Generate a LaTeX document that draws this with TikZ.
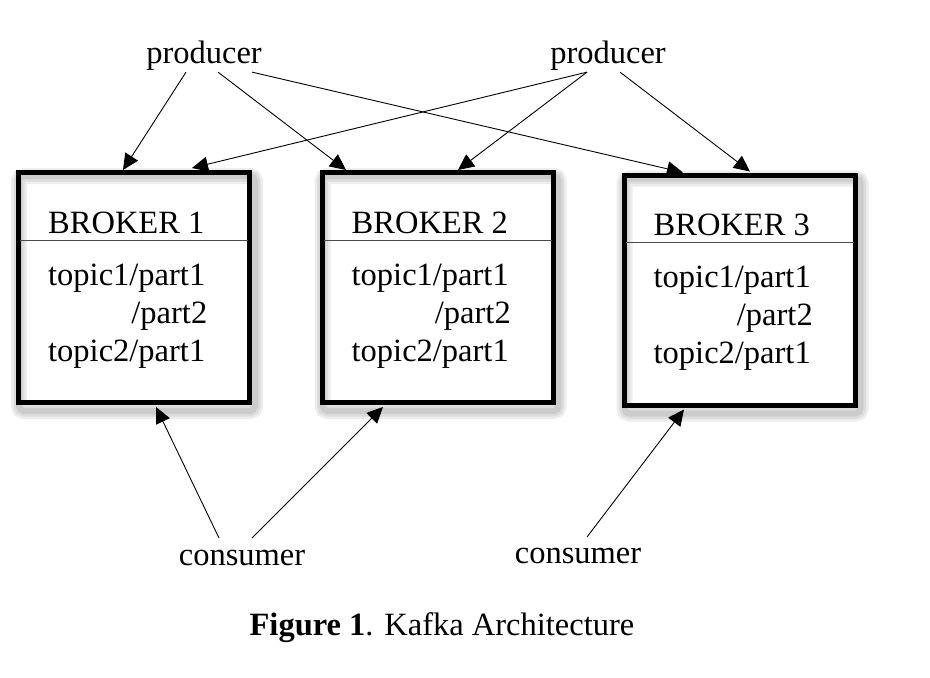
\documentclass[tikz,border=0pt]{standalone}
\usepackage{fontspec}
\setmainfont{Liberation Serif}
\usepackage{tikz}
\usetikzlibrary{arrows.meta, positioning, calc, backgrounds}
\definecolor{ink}{HTML}{000000}
\definecolor{rulegray}{HTML}{4A4A4A}

\begin{document}
\begin{tikzpicture}[x=1pt, y=-1pt, font=\fontsize{32.5}{38}\selectfont,
  broker/.style={draw=ink, line width=5pt, minimum width=231pt, minimum height=230pt, inner sep=0pt},
  role/.style={inner sep=0pt, anchor=base},
  entry/.style={inner sep=0pt, anchor=base west},
  arr/.style={-{Triangle[length=16pt, width=15pt]}, line width=0.9pt, ink}]
  \useasboundingbox (0,0) rectangle (930,678);
  % Brokers
  \node[broker] (b1) at (134,287.5) {};
  \node[broker] (b2) at (437.5,287.5) {};
  \node[broker] (b3) at (739.5,290) {};
  \foreach \b/\n in {b1/1, b2/2, b3/3} {
    \node[entry] (\b title) at ($(\b.north west)+(32,63)$) {BROKER \n};
    \draw[rulegray, line width=1pt] ($(\b.north west)+(4,70)$) -- ($(\b.north east)+(-4,70)$);
    \node[entry] (\b top) at ($(\b.north west)+(32,115)$) {topic1/part1};
    \node[inner sep=0pt, anchor=base east] (\b mid) at ($(\b top.base east)+(2,38)$) {/part2};
    \node[entry] (\b low) at ($(\b top.base west)+(0,76)$) {topic2/part1};
  }
  % Soft shadows
  \begin{scope}[on background layer]
    \foreach \b in {b1,b2,b3}
      \foreach \w in {16,11,6}
        \draw[black, opacity=0.07, line width=\w pt, rounded corners=5pt]
          ([shift={(3,6)}]\b.north west) rectangle ([shift={(3,6)}]\b.south east);
  \end{scope}
  % Producers and consumers
  \node[role] (p1) at (204,63) {producer};
  \node[role] (p2) at (608,63) {producer};
  \node[role] (c1) at (242,565) {consumer};
  \node[role] (c2) at (578,563) {consumer};
  % Writes
  \draw[arr] ($(p1.south)+(-18,2)$) -- ($(b1.north)+(-11,0)$);
  \draw[arr] ($(p1.south)+(14,2)$) -- ($(b2.north)+(-91.5,0)$);
  \draw[arr] ($(p1.south)+(48,2)$) -- ($(b3.north)+(-56.5,0)$);
  \draw[arr] ($(p2.south)+(-21,2)$) -- ($(b1.north)+(58,-2)$);
  \draw[arr] ($(p2.south)+(-21,2)$) -- ($(b2.north)+(20.5,0)$);
  \draw[arr] ($(p2.south)+(12,2)$) -- ($(b3.north)+(10.5,-1)$);
  % Reads
  \draw[arr] ($(c1.base)+(-23,-27)$) -- ($(b1.south)+(22,2)$);
  \draw[arr] ($(c1.base)+(10,-27)$) -- ($(b2.south)+(-54.5,2)$);
  \draw[arr] ($(c2.base)+(9,-26)$) -- ($(b3.south)+(-55.5,2)$);
  % Caption
  \node[role] (cap) at (442,635) {\textbf{Figure 1}. Kafka Architecture};
\end{tikzpicture}
\end{document}
